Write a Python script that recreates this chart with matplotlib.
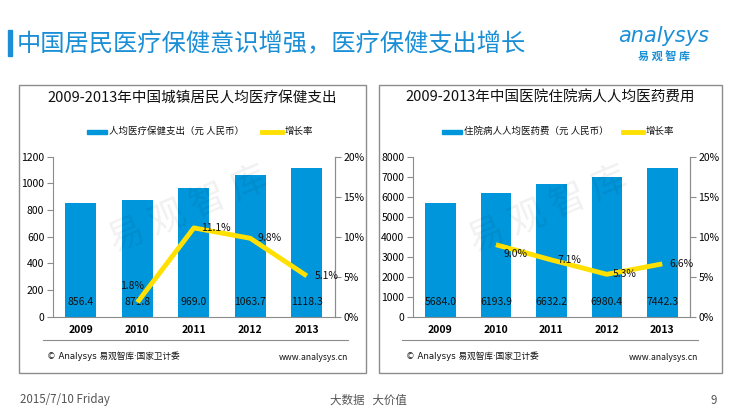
import matplotlib
matplotlib.use("Agg")
import matplotlib.pyplot as plt
from matplotlib.patches import Rectangle
from matplotlib.lines import Line2D
import numpy as np

plt.rcParams['font.family'] = ['Noto Sans CJK SC', 'DejaVu Sans']

years = ["2009", "2010", "2011", "2012", "2013"]

# Left chart
left_title = "2009-2013年中国城镇居民人均医疗保健支出"
left_bar_label = "人均医疗保健支出（元 人民币）"
left_values = [856.4, 871.8, 969.0, 1063.7, 1118.3]
left_growth = [None, 1.8, 11.1, 9.8, 5.1]
left_yticks = [0, 200, 400, 600, 800, 1000, 1200]

# Right chart
right_title = "2009-2013年中国医院住院病人人均医药费用"
right_bar_label = "住院病人人均医药费（元 人民币）"
right_values = [5684.0, 6193.9, 6632.2, 6980.4, 7442.3]
right_growth = [None, 9.0, 7.1, 5.3, 6.6]
right_yticks = [0, 1000, 2000, 3000, 4000, 5000, 6000, 7000, 8000]

pct_ticks = [0, 5, 10, 15, 20]
line_label = "增长率"

BLUE = "#0096DB"
YELLOW = "#FFE000"
GREY = "#8C8C8C"

W, H = 733, 412
fig = plt.figure(figsize=(W / 100, H / 100), dpi=100)
fig.patch.set_facecolor("white")


def fx(px):
    return px / W


def fy(py):
    return 1 - py / H


# Header
fig.patches.append(Rectangle((fx(8), fy(56)), fx(4), (56 - 30) / H,
                             transform=fig.transFigure, color="#1a8fd6"))
fig.text(fx(17), fy(44), "中国居民医疗保健意识增强，医疗保健支出增长",
         fontsize=17.5, color="#1a8fd6", va="center", ha="left")
fig.text(fx(664), fy(36), "analysys", fontsize=15, color="#1a8fd6",
         style="italic", ha="center", va="center", family=["DejaVu Sans"])
fig.text(fx(664), fy(57), "易 观 智 库", fontsize=8, color="#1a8fd6",
         fontweight="bold", ha="center", va="center")

# Footer
fig.text(fx(20), fy(400), "2015/7/10 Friday", fontsize=8.3, color="#555555",
         ha="left", va="center")
fig.text(fx(368), fy(400), "大数据   大价值", fontsize=8.3, color="#555555",
         ha="center", va="center")
fig.text(fx(714), fy(400), "9", fontsize=8.3, color="#555555",
         ha="center", va="center")


def panel(box_x0, box_x1, ax_x0, ax_x1, title, bar_label, values, growth,
          yticks, label_offsets, legend_x, sep_x0, sep_x1):
    # Box
    fig.patches.append(Rectangle((fx(box_x0), fy(373)), fx(box_x1 - box_x0),
                                 (373 - 85) / H, transform=fig.transFigure,
                                 fill=False, edgecolor=GREY, lw=1))
    cx = (box_x0 + box_x1) / 2
    fig.text(fx(cx), fy(98), title, fontsize=10.5, ha="center", va="center",
             color="#111111")
    # Watermark
    fig.text(fx(box_x0 + 169), fy(210), "易 观 智 库", fontsize=26,
             color="#000000", alpha=0.06, rotation=23, ha="center",
             va="center")

    ax = fig.add_axes([fx(ax_x0), fy(316.7), fx(ax_x1 - ax_x0), 160 / H])
    x = np.arange(len(years))
    ax.bar(x, values, width=0.55, color=BLUE, zorder=2)
    ax.set_xlim(-0.5, len(years) - 0.5)
    ax.set_ylim(yticks[0], yticks[-1])
    ax.set_yticks(yticks)
    ax.set_yticklabels([str(t) for t in yticks], fontsize=7.5)
    ax.set_xticks(x)
    ax.set_xticklabels(years, fontsize=7.5, fontweight="bold")
    ax.tick_params(axis="x", length=0, pad=6)
    ax.tick_params(axis="y", length=4, color=GREY, pad=2)
    ax.patch.set_alpha(0)
    for s in ["top"]:
        ax.spines[s].set_visible(False)
    for s in ["left", "right", "bottom"]:
        ax.spines[s].set_color(GREY)
        ax.spines[s].set_linewidth(0.8)
    for xi, v in zip(x, values):
        ax.annotate(f"{v:.1f}", (xi, 0), xytext=(0, 10.5),
                    textcoords="offset points", ha="center", va="center",
                    fontsize=7.5, color="#111111", zorder=5)

    ax2 = ax.twinx()
    ax2.set_ylim(0, 20)
    ax2.set_yticks(pct_ticks)
    ax2.set_yticklabels([f"{t}%" for t in pct_ticks], fontsize=7.5)
    ax2.tick_params(axis="y", length=4, color=GREY, pad=2)
    for s in ["top", "left", "bottom"]:
        ax2.spines[s].set_visible(False)
    ax2.spines["right"].set_color(GREY)
    ax2.spines["right"].set_linewidth(0.8)
    gx = [xi for xi, g in zip(x, growth) if g is not None]
    gy = [g for g in growth if g is not None]
    ax2.plot(gx, gy, color=YELLOW, lw=3.5, solid_capstyle="butt", zorder=3)
    for xi, g, off in zip(gx, gy, label_offsets):
        ax2.annotate(f"{g:.1f}%", (xi, g), xytext=off,
                     textcoords="offset points", ha="center", va="center",
                     fontsize=7.5, color="#111111", zorder=6)

    # Legend
    lx0, lx1 = legend_x
    fig.patches.append(Rectangle((fx(lx0), fy(134)), fx(20), 4.5 / H,
                                 transform=fig.transFigure, color=BLUE))
    fig.text(fx(lx0 + 22), fy(131.5), bar_label, fontsize=6.8, ha="left",
             va="center", color="#111111")
    fig.lines.append(Line2D([fx(lx1), fx(lx1 + 20)], [fy(131.5), fy(131.5)],
                            transform=fig.transFigure, color=YELLOW, lw=3.5))
    fig.text(fx(lx1 + 23), fy(131.5), line_label, fontsize=6.8, ha="left",
             va="center", color="#111111")

    # Source line
    fig.lines.append(Line2D([fx(sep_x0), fx(sep_x1)], [fy(340), fy(340)],
                            transform=fig.transFigure, color=GREY, lw=0.8))
    fig.text(fx(sep_x0 + 4), fy(356), "© Analysys 易观智库·国家卫计委",
             fontsize=6.2, ha="left", va="center", color="#111111",
             family=["DejaVu Sans", "Noto Sans CJK SC"])
    fig.text(fx(sep_x1), fy(357), "www.analysys.cn", fontsize=6.2,
             ha="right", va="center", color="#111111")


panel(19, 366, 52.7, 335, left_title, left_bar_label, left_values,
      left_growth, left_yticks,
      [(-4, 12), (16, 0), (14, 0), (14, 0)], (87, 262), 43, 348)
panel(379, 722, 412.7, 690, right_title, right_bar_label, right_values,
      right_growth, right_yticks,
      [(14, -7), (13, 0), (13, 0), (14, 0)], (442, 623), 402, 698)

fig.savefig("out.png", dpi=100, facecolor="white")
